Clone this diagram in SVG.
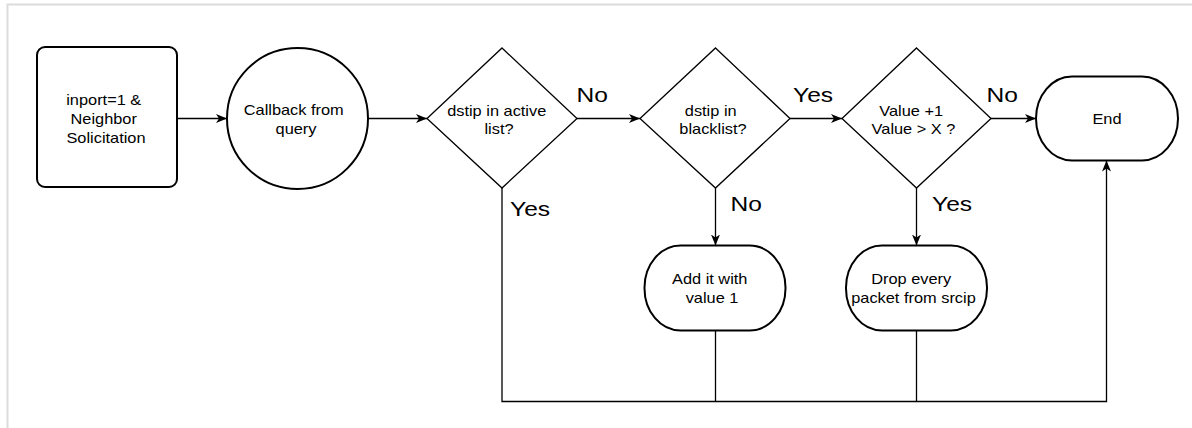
<svg xmlns="http://www.w3.org/2000/svg" width="1192" height="428" viewBox="0 0 1192 428">
  <style>
    .node { fill: #fff; stroke: #000; stroke-width: 2; }
    .dec { fill: #fff; stroke: #000; stroke-width: 1.3; }
    .edge { fill: none; stroke: #000; stroke-width: 1.3; }
    .t { font-family: "Liberation Sans", Arial, Helvetica, sans-serif; font-size: 14px; text-anchor: middle; fill: #000; }
    .lbl { font-family: "Liberation Sans", Arial, Helvetica, sans-serif; font-size: 21px; text-anchor: start; fill: #000; }
  </style>
  <defs>
    <marker id="arrow" viewBox="0 0 11 9" refX="11" refY="4.5" markerWidth="11" markerHeight="9" markerUnits="userSpaceOnUse" orient="auto">
      <path d="M0,0 L11,4.5 L0,9 L3,4.5 Z" fill="#000"/>
    </marker>
  </defs>

  <rect width="1192" height="428" fill="#fff"/>
  <!-- page frame -->
  <path d="M7.5,428 V4.5 H1192" fill="none" stroke="#dcdcdc" stroke-width="2"/>

  <g id="connectors">
    <path class="edge" d="M177,118.5 H227" marker-end="url(#arrow)"/>
    <path class="edge" d="M368,118.5 H427" marker-end="url(#arrow)"/>
    <path class="edge" d="M577,118.5 H640" marker-end="url(#arrow)"/>
    <path class="edge" d="M790,118.5 H842" marker-end="url(#arrow)"/>
    <path class="edge" d="M991,118.5 H1036" marker-end="url(#arrow)"/>
    <path class="edge" d="M715.5,188 V245.5" marker-end="url(#arrow)"/>
    <path class="edge" d="M916.5,188 V245.5" marker-end="url(#arrow)"/>
    <path class="edge" d="M502,188 V401.5 H1106.5 V160.5" marker-end="url(#arrow)"/>
    <path class="edge" d="M715.5,330.5 V401.5"/>
    <path class="edge" d="M916.5,330.5 V401.5"/>
    <!-- branch labels -->
    <text class="lbl" transform="translate(576.5,102) scale(1.17,1)">No</text>
    <text class="lbl" transform="translate(793,102) scale(1.17,1)">Yes</text>
    <text class="lbl" transform="translate(986.5,102) scale(1.17,1)">No</text>
    <text class="lbl" transform="translate(510,215.5) scale(1.17,1)">Yes</text>
    <text class="lbl" transform="translate(730.5,211) scale(1.17,1)">No</text>
    <text class="lbl" transform="translate(932,211) scale(1.17,1)">Yes</text>
  </g>

  <g id="start">
    <rect class="node" x="37" y="47" width="140" height="140" rx="8" ry="8"/>
    <text class="t" transform="translate(106,0) scale(1.17,1)">
      <tspan x="0" y="105.5">inport=1 &amp;</tspan>
      <tspan x="0" y="124.3">Neighbor</tspan>
      <tspan x="0" y="143">Solicitation</tspan>
    </text>
  </g>

  <g id="callback">
    <circle class="node" cx="297.5" cy="118.5" r="70.5"/>
    <text class="t" transform="translate(296,0) scale(1.17,1)">
      <tspan x="0" y="115">Callback from</tspan>
      <tspan x="0" y="133.7">query</tspan>
    </text>
  </g>

  <g id="active-check">
    <polygon class="dec" points="502,48 577,118.5 502,188 427,118.5"/>
    <text class="t" transform="translate(499,0) scale(1.17,1)">
      <tspan x="0" y="115.7">dstip in active</tspan>
      <tspan x="0" y="134.3">list?</tspan>
    </text>
  </g>

  <g id="blacklist-check">
    <polygon class="dec" points="715.5,48 790,118.5 715.5,188 640,118.5"/>
    <text class="t" transform="translate(713,0) scale(1.17,1)">
      <tspan x="0" y="115.7">dstip in</tspan>
      <tspan x="0" y="134.3">blacklist?</tspan>
    </text>
  </g>

  <g id="value-check">
    <polygon class="dec" points="916.5,48 991,118.5 916.5,188 842,118.5"/>
    <text class="t" transform="translate(913.5,0) scale(1.17,1)">
      <tspan x="0" y="115.7">Value +1</tspan>
      <tspan x="0" y="134.3">Value &gt; X ?</tspan>
    </text>
  </g>

  <g id="end">
    <rect class="node" x="1036" y="76.5" width="142" height="84" rx="36" ry="42"/>
    <text class="t" transform="translate(1107,0) scale(1.17,1)">
      <tspan x="0" y="124.3">End</tspan>
    </text>
  </g>

  <g id="add-entry">
    <rect class="node" x="644.5" y="245.5" width="141" height="85" rx="36" ry="42"/>
    <text class="t" transform="translate(712,0) scale(1.17,1)">
      <tspan x="0" y="284.3">Add it with</tspan>
      <tspan x="0" y="303.2">value 1</tspan>
    </text>
  </g>

  <g id="drop-packets">
    <rect class="node" x="846" y="245.5" width="141" height="85" rx="36" ry="42"/>
    <text class="t" transform="translate(913.5,0) scale(1.17,1)">
      <tspan x="0" y="284.3">Drop every</tspan>
      <tspan x="0" y="303.2">packet from srcip</tspan>
    </text>
  </g>
</svg>
